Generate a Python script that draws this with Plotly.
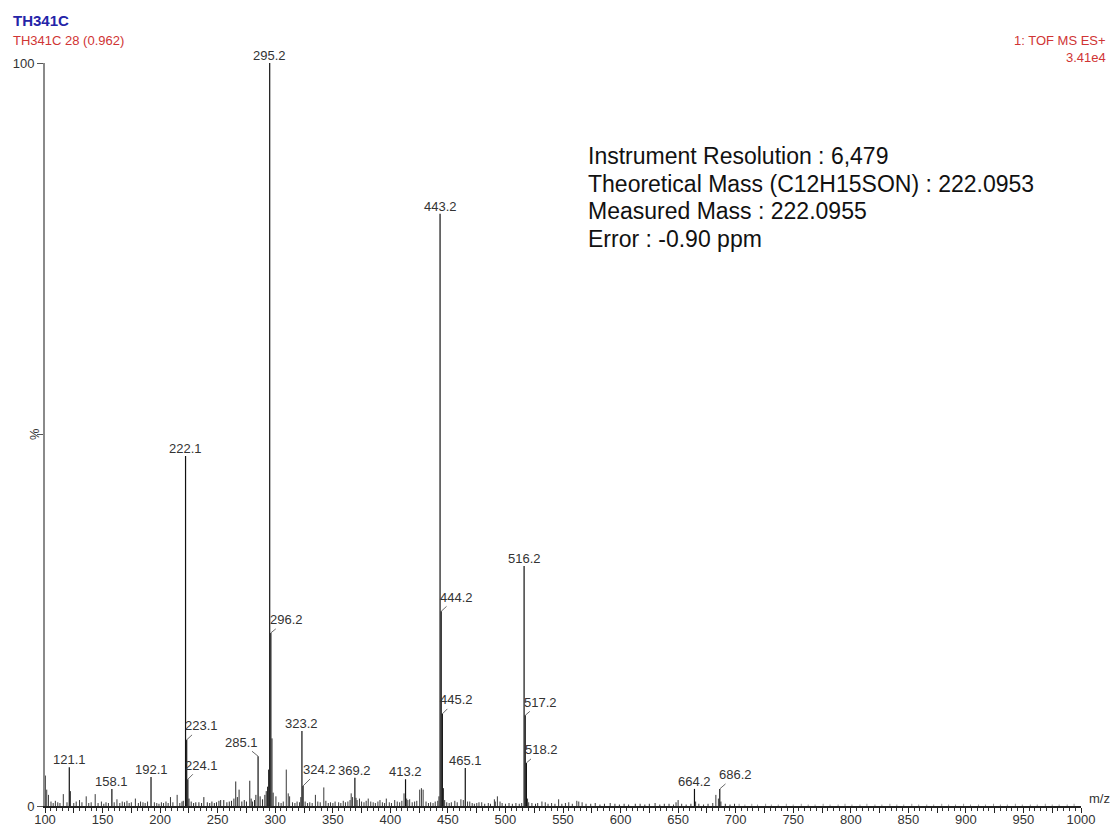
import plotly.graph_objects as go

# ---- annotated peaks (m/z, relative intensity %) ----
labeled_mz = [121.1, 158.1, 192.1, 222.1, 223.1, 224.1, 285.1, 295.2, 296.2, 323.2, 324.2,
              369.2, 413.2, 443.2, 444.2, 445.2, 465.1, 516.2, 517.2, 518.2, 664.2, 686.2]
labeled_int = [5.2, 2.3, 3.9, 47.1, 8.9, 3.6, 6.7, 100.0, 23.3, 10.1, 2.7,
               3.8, 3.6, 79.7, 26.2, 12.4, 5.1, 32.3, 12.2, 5.8, 2.3, 2.3]

# ---- unlabelled peaks, by m/z region ----
mz_a = [100.3, 101.5, 103.0, 105.2, 107.1, 109.0, 111.1, 113.0, 115.9, 119.1, 122.1, 125.0, 127.1,
        130.0, 132.1, 135.8, 138.0, 140.1, 143.6, 146.1, 149.0, 151.1, 153.0, 155.1, 160.1, 162.5,
        165.0, 167.1, 169.1, 171.2, 173.1, 175.0, 178.5, 181.1, 183.0, 185.1, 187.0, 189.1, 195.0,
        197.1, 199.0, 201.1, 203.0, 205.1, 207.0, 209.0, 211.1, 214.8, 217.1, 219.0]
int_a = [4.1, 2.2, 1.5, 0.6, 0.4, 0.7, 0.5, 0.4, 1.6, 0.5, 2.0, 0.4, 0.6,
         0.8, 0.5, 1.3, 0.4, 0.5, 1.6, 0.4, 0.6, 0.3, 0.5, 0.4, 0.5, 0.9,
         0.4, 0.6, 0.5, 0.7, 0.4, 0.5, 1.0, 0.4, 0.6, 0.5, 0.4, 0.6, 0.5,
         0.4, 0.3, 0.5, 0.4, 0.6, 0.4, 1.2, 0.5, 1.5, 0.4, 0.6]

mz_b = [220.1, 225.1, 227.0, 229.1, 231.0, 233.7, 236.0, 238.0, 241.0, 243.1, 245.0, 247.1, 249.0,
        251.1, 252.6, 255.3, 258.0, 260.1, 262.0, 264.1, 265.7, 267.1, 268.6, 271.0, 273.1, 275.0,
        277.9, 279.1, 280.2, 282.0, 283.2, 286.9, 289.0, 291.0, 292.2, 293.3, 294.2, 297.2, 298.2]
int_b = [0.7, 1.0, 0.6, 0.4, 0.5, 0.5, 0.4, 1.2, 0.5, 0.4, 0.6, 0.4, 0.5,
         0.7, 0.8, 0.8, 0.5, 0.6, 0.7, 1.0, 3.3, 1.2, 2.2, 0.6, 0.8, 0.6,
         3.4, 1.0, 0.6, 0.8, 1.5, 1.3, 0.9, 1.5, 2.0, 2.6, 4.9, 9.1, 1.8]

mz_c = [300.6, 303.0, 305.1, 307.0, 309.6, 311.3, 312.5, 315.0, 317.1, 319.0, 321.1, 322.2, 326.0,
        328.1, 330.0, 332.1, 334.9, 337.0, 339.1, 342.2, 344.0, 346.1, 348.0, 350.1, 352.0, 355.1,
        357.0, 359.1, 361.0, 363.1, 365.0, 366.0, 367.2, 370.2, 371.1, 373.2, 375.0, 377.1, 379.0,
        380.8, 383.0, 385.1, 387.0, 389.2, 391.0, 393.1, 395.0, 396.5, 399.1, 401.0, 403.8, 406.0,
        408.1, 410.0, 411.9, 414.2, 415.2, 416.8, 419.0, 421.1, 423.0, 425.5, 427.0, 428.5, 431.0,
        433.1, 435.0, 437.1, 439.0, 441.2, 442.2]
int_c = [1.3, 0.5, 0.4, 0.6, 4.9, 1.7, 1.3, 0.5, 0.4, 0.6, 0.5, 1.2, 0.6,
         0.4, 0.5, 0.4, 1.5, 0.6, 0.5, 2.5, 0.7, 0.4, 0.5, 0.4, 0.6, 0.5,
         0.4, 0.7, 0.5, 0.6, 0.8, 1.7, 1.2, 1.1, 0.8, 1.0, 0.6, 0.5, 0.7,
         1.0, 0.6, 0.5, 0.4, 0.6, 0.8, 0.5, 0.4, 1.0, 0.5, 0.4, 0.8, 0.6,
         0.5, 0.7, 1.7, 1.0, 0.8, 0.9, 0.5, 0.6, 0.7, 2.2, 2.4, 2.2, 0.6,
         0.4, 0.5, 0.4, 0.6, 0.7, 1.3]

mz_d = [446.2, 447.2, 449.0, 451.1, 453.0, 456.0, 458.1, 461.3, 463.4, 467.1, 469.0, 471.1, 473.0,
        475.1, 477.0, 479.4, 482.0, 485.1, 487.0, 490.4, 491.2, 493.0, 495.3, 497.1, 500.0, 503.1,
        506.0, 509.1, 512.0, 514.1, 519.2, 520.2, 523.0, 526.1, 528.0, 531.7, 534.6, 537.0, 540.1,
        543.0, 546.2, 549.0, 552.1, 555.0, 558.1, 562.0, 563.7, 566.6, 570.0, 574.1, 578.0, 582.1,
        586.0, 591.0, 595.1, 599.0, 603.1, 607.0, 612.8, 617.0, 621.1, 625.0, 630.0, 634.1, 638.0,
        642.1, 646.0, 648.2, 650.0, 653.1, 657.0, 661.1, 665.2, 668.0, 672.1, 676.0, 680.1, 682.8,
        685.0, 687.2, 691.0, 695.1, 699.0]
int_d = [2.4, 0.8, 0.5, 0.4, 0.5, 0.7, 0.5, 0.9, 0.8, 0.6, 0.6, 0.4, 0.3,
         0.4, 0.5, 0.5, 0.3, 0.4, 0.3, 0.9, 0.6, 1.3, 0.6, 0.4, 0.3, 0.4,
         0.3, 0.4, 0.3, 0.4, 1.0, 0.5, 0.4, 0.3, 0.4, 0.6, 0.5, 0.3, 0.4,
         0.3, 0.9, 0.3, 0.4, 0.5, 0.3, 0.7, 0.6, 0.5, 0.3, 0.3, 0.4, 0.2,
         0.3, 0.4, 0.3, 0.2, 0.3, 0.2, 0.3, 0.3, 0.2, 0.3, 0.4, 0.2, 0.3,
         0.3, 0.2, 0.5, 0.8, 0.3, 0.2, 0.3, 0.6, 0.3, 0.2, 0.3, 0.4, 1.5,
         1.0, 0.6, 0.3, 0.2, 0.3]

mz_e = [703, 708, 714, 719, 726, 731, 737, 744, 750, 757, 763, 769, 776, 782, 789, 795,
        801, 808, 814, 821, 827, 834, 840, 846, 853, 859, 866, 872, 879, 885, 891, 898,
        904, 911, 917, 924, 930, 936, 943, 949, 956, 962, 969, 975, 981, 988, 994]
int_e = [0.3, 0.2, 0.3, 0.2, 0.3, 0.2, 0.2, 0.3, 0.2, 0.3, 0.2, 0.2, 0.3, 0.2, 0.2, 0.3,
         0.2, 0.2, 0.3, 0.2, 0.2, 0.3, 0.2, 0.2, 0.3, 0.2, 0.2, 0.2, 0.3, 0.2, 0.2, 0.3,
         0.2, 0.2, 0.2, 0.3, 0.2, 0.2, 0.3, 0.2, 0.2, 0.2, 0.3, 0.2, 0.2, 0.2, 0.3]

# x-axis ticks
tick_vals = list(range(100, 1001, 25))
tick_text = [str(v) if v % 50 == 0 else "" for v in tick_vals]

info_lines = [
    "Instrument Resolution : 6,479",
    "Theoretical Mass (C12H15SON) : 222.0953",
    "Measured Mass : 222.0955",
    "Error : -0.90 ppm",
]

FONT = "Liberation Sans, Arial, sans-serif"
LABEL_GREY = "#333333"


def sticks(mzs, ints):
    """Turn a peak list into vertical stick segments."""
    xs, ys = [], []
    for m, h in zip(mzs, ints):
        xs += [m, m, None]
        ys += [0, h, None]
    return xs, ys


fig = go.Figure()

for mzs, ints, col, w in [
    (mz_e, int_e, "#9a9a9a", 1),
    (mz_a, int_a, "#3a3a3a", 1),
    (mz_b, int_b, "#2a2a2a", 1),
    (mz_c, int_c, "#3a3a3a", 1),
    (mz_d, int_d, "#3a3a3a", 1),
    (labeled_mz, labeled_int, "#111111", 1.2),
]:
    xs, ys = sticks(mzs, ints)
    fig.add_trace(go.Scatter(x=xs, y=ys, mode="lines",
                             line=dict(color=col, width=w),
                             hoverinfo="skip", showlegend=False))

# labels offset with a short leader line (pixel offsets of the text centre)
leader_offsets = {
    "296.2": (16, -13), "444.2": (15, -14), "445.2": (14, -14),
    "517.2": (15, -13), "518.2": (15, -13), "223.1": (15, -14),
    "224.1": (14, -14), "285.1": (-17, -14), "324.2": (16, -16),
    "686.2": (16, -14),
}

annotations = []
for m, h in zip(labeled_mz, labeled_int):
    txt = f"{m:.1f}"
    if txt in leader_offsets:
        ax, ay = leader_offsets[txt]
        annotations.append(dict(
            x=m, y=h, xref="x", yref="y", text=txt, showarrow=True,
            ax=ax, ay=ay, arrowhead=0, arrowwidth=0.8, arrowcolor="#444",
            standoff=0, font=dict(family=FONT, size=13, color=LABEL_GREY)))
    else:
        annotations.append(dict(
            x=m, y=h, xref="x", yref="y", text=txt, showarrow=False,
            yanchor="bottom", xanchor="center", yshift=-2,
            font=dict(family=FONT, size=13, color=LABEL_GREY)))

# pixel -> paper helpers for the text placed around the plot frame
L, R, T, B = 45, 37, 63, 21
W, H = 1118, 827
PW, PH = W - L - R, H - T - B


def px(x):
    return (x - L) / PW


def py(y):
    return (H - B - y) / PH


annotations += [
    dict(x=px(11), y=py(21), xref="paper", yref="paper", xanchor="left", yanchor="middle",
         text="<b>TH341C</b>", showarrow=False,
         font=dict(family=FONT, size=15, color="#2424a8")),
    dict(x=px(11), y=py(41), xref="paper", yref="paper", xanchor="left", yanchor="middle",
         text="TH341C 28 (0.962)", showarrow=False,
         font=dict(family=FONT, size=13, color="#d03434")),
    dict(x=px(1108), y=py(41), xref="paper", yref="paper", xanchor="right", yanchor="middle",
         text="1: TOF MS ES+", showarrow=False,
         font=dict(family=FONT, size=13, color="#d03434")),
    dict(x=px(1108), y=py(57), xref="paper", yref="paper", xanchor="right", yanchor="middle",
         text="3.41e4", showarrow=False,
         font=dict(family=FONT, size=13, color="#d03434")),
    dict(x=px(1087), y=py(798), xref="paper", yref="paper", xanchor="left", yanchor="middle",
         text="m/z", showarrow=False,
         font=dict(family=FONT, size=13, color=LABEL_GREY)),
    dict(x=px(34), y=0.5, xref="paper", yref="paper", xanchor="center", yanchor="middle",
         text="%", textangle=90, showarrow=False,
         font=dict(family=FONT, size=13, color=LABEL_GREY)),
]

for i, line in enumerate(info_lines):
    annotations.append(dict(
        x=px(586), y=py(156 + 27.6 * i), xref="paper", yref="paper",
        xanchor="left", yanchor="middle", text=line, showarrow=False,
        font=dict(family=FONT, size=23, color="#111111")))

fig.update_layout(
    width=W, height=H,
    margin=dict(l=L, r=R, t=T, b=B, autoexpand=False),
    paper_bgcolor="white", plot_bgcolor="white",
    showlegend=False,
    annotations=annotations,
    xaxis=dict(
        range=[100, 1000], showgrid=False, zeroline=False,
        showline=True, linecolor="#222", linewidth=1.5,
        tickmode="array", tickvals=tick_vals, ticktext=tick_text,
        ticks="outside", ticklen=5, tickwidth=1, tickcolor="#222",
        ticklabelstandoff=-4,
        tickfont=dict(family=FONT, size=13, color=LABEL_GREY),
        minor=dict(dtick=5, tick0=100, ticks="outside", ticklen=3,
                   tickwidth=1, tickcolor="#333", showgrid=False),
        automargin=False,
    ),
    yaxis=dict(
        range=[0, 100], showgrid=False, zeroline=False,
        showline=True, linecolor="#8a8a8a", linewidth=2,
        tickmode="array", tickvals=[0, 50, 100], ticktext=["0", " ", "100"],
        ticks="outside", ticklen=6, tickwidth=1, tickcolor="#555",
        tickfont=dict(family=FONT, size=13, color=LABEL_GREY),
        automargin=False,
    ),
)

fig.write_html("out.html")
